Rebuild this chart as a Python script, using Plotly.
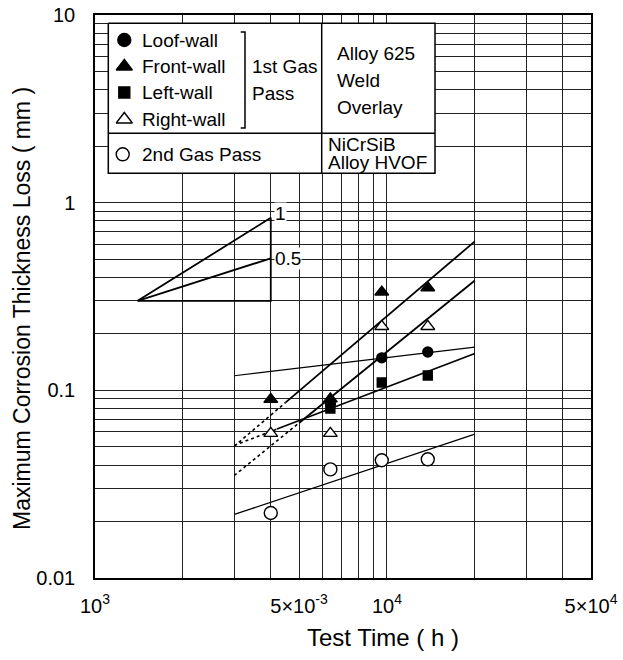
import numpy as np
import plotly.graph_objects as go

# ---------------- data ----------------
TIME_H = [4000, 6400, 9600, 13800]
LOOF_WALL = [None, 0.085, 0.149, 0.160]
FRONT_WALL = [0.0895, 0.090, 0.334, 0.352]
LEFT_WALL = [None, 0.080, 0.110, 0.120]
RIGHT_WALL = [0.059, 0.059, 0.219, 0.219]
SECOND_PASS = [0.0222, 0.0379, 0.0424, 0.0429]

# fitted straight lines (log-log), start/end values at FIT_X
FIT_X = [3000, 20000]
FIT_A = [0.0504, 0.622]
FIT_B = [0.0352, 0.385]
FIT_C = [0.1197, 0.170]
FIT_D = [0.0509, 0.157]
FIT_E = [0.0218, 0.0585]
FIT_DOT_END = [4500, 5000, None, 4200, None]   # dotted up to this time

# slope guide triangle
SLOPE_X = [1400, 4000]
SLOPE_BASE = 0.30
SLOPE_TOP_1 = 0.83
SLOPE_TOP_05 = 0.505

X_TICKS = [1000, 5000, 10000, 50000]
X_TICKTEXT = ["10<sup>3</sup>", "5×10<sup>-3</sup>", "10<sup>4</sup>", "5×10<sup>4</sup>"]
X_GRID = [2000, 3000, 4000, 6000, 7000, 8000, 9000, 20000, 30000, 40000]
Y_TICKS = [0.01, 0.1, 1, 10]
Y_TICKTEXT = ["0.01", "0.1", "1", "10"]
Y_GRID = [m * 10.0 ** e for e in (-2, -1, 0) for m in range(2, 10)]

FONT = "Liberation Sans, Arial, Helvetica, sans-serif"

# ---------------- layout geometry (pixels) ----------------
W, H = 623, 660
PL, PT, PR, PB = 95, 15, 591, 578
PW, PH = PR - PL, PB - PT


def px(x):
    return (x - PL) / PW


def py(y):
    return (PB - y) / PH


fig = go.Figure()

# fitted lines
for ys, dot_end, wdt in zip([FIT_A, FIT_B, FIT_C, FIT_D, FIT_E], FIT_DOT_END,
                            [1.8, 1.8, 1.1, 1.6, 1.3]):
    lx = np.log10(FIT_X)
    ly = np.log10(ys)
    if dot_end is None:
        fig.add_trace(go.Scatter(x=FIT_X, y=ys, mode="lines",
                                 line=dict(color="black", width=wdt),
                                 showlegend=False, hoverinfo="skip"))
    else:
        yb = 10 ** np.interp(np.log10(dot_end), lx, ly)
        fig.add_trace(go.Scatter(x=[FIT_X[0], dot_end], y=[ys[0], yb], mode="lines",
                                 line=dict(color="black", width=1.6, dash="dot"),
                                 showlegend=False, hoverinfo="skip"))
        fig.add_trace(go.Scatter(x=[dot_end, FIT_X[1]], y=[yb, ys[1]], mode="lines",
                                 line=dict(color="black", width=wdt),
                                 showlegend=False, hoverinfo="skip"))

# slope triangle
fig.add_trace(go.Scatter(
    x=[SLOPE_X[1], SLOPE_X[0], SLOPE_X[1], SLOPE_X[1], SLOPE_X[0]],
    y=[SLOPE_TOP_1, SLOPE_BASE, SLOPE_BASE, SLOPE_TOP_1, SLOPE_BASE],
    mode="lines", line=dict(color="black", width=1.8),
    showlegend=False, hoverinfo="skip"))
fig.add_trace(go.Scatter(
    x=SLOPE_X, y=[SLOPE_BASE, SLOPE_TOP_05], mode="lines",
    line=dict(color="black", width=1.8), showlegend=False, hoverinfo="skip"))

# data markers
series = [
    ("Right-wall", RIGHT_WALL, "triangle-up", "white", 12),
    ("2nd Gas Pass", SECOND_PASS, "circle", "white", 13),
    ("Front-wall", FRONT_WALL, "triangle-up", "black", 12),
    ("Loof-wall", LOOF_WALL, "circle", "black", 10),
    ("Left-wall", LEFT_WALL, "square", "black", 9),
]
for name, ys, sym, col, size in series:
    fig.add_trace(go.Scatter(x=TIME_H, y=ys, mode="markers", name=name,
                             marker=dict(symbol=sym, color=col, size=size,
                                         line=dict(color="black", width=1.4)),
                             showlegend=False))

# ---------------- legend table (overlay axes in paper units) ----------------
LX0, LX1, LY0, LY1 = 108.3, 435, 23.3, 173.3
LDIV_Y, LDIV_X = 133.3, 321.7
fig.add_trace(go.Scatter(
    x=[px(LX0), px(LX1), px(LX1), px(LX0), px(LX0)],
    y=[py(LY0), py(LY0), py(LY1), py(LY1), py(LY0)],
    mode="lines", fill="toself", fillcolor="white",
    line=dict(color="black", width=1.5), xaxis="x2", yaxis="y2",
    showlegend=False, hoverinfo="skip"))
for xs, ys in [([LX0, LX1], [LDIV_Y, LDIV_Y]), ([LDIV_X, LDIV_X], [LY0, LY1]),
               ([240.7, 245, 245, 240.7], [32, 32, 128, 128])]:
    fig.add_trace(go.Scatter(x=[px(v) for v in xs], y=[py(v) for v in ys],
                             mode="lines", line=dict(color="black", width=1.5),
                             xaxis="x2", yaxis="y2", showlegend=False,
                             hoverinfo="skip"))

leg_items = [
    ("Loof-wall", "circle", "black", 13, 124.3, 40),
    ("Front-wall", "triangle-up", "black", 14, 124.3, 66.5),
    ("Left-wall", "square", "black", 11, 124.3, 92.5),
    ("Right-wall", "triangle-up", "white", 14, 124.3, 119.5),
    ("2nd Gas Pass", "circle", "white", 13, 122.7, 154.3),
]
for text, sym, col, size, mx, my in leg_items:
    fig.add_trace(go.Scatter(x=[px(mx)], y=[py(my)], mode="markers",
                             marker=dict(symbol=sym, color=col, size=size,
                                         line=dict(color="black", width=1.4)),
                             xaxis="x2", yaxis="y2", showlegend=False,
                             hoverinfo="skip"))

annotations = []


def txt(t, x, y, size=19, xanchor="left"):
    annotations.append(dict(text=t, x=px(x), y=py(y), xref="paper", yref="paper",
                            xanchor=xanchor, yanchor="middle", showarrow=False,
                            font=dict(family=FONT, size=size, color="black")))


for text, sym, col, size, mx, my in leg_items:
    txt(text, 139.5, my)
txt("1st Gas", 250, 66.5)
txt("Pass", 250, 93.3)
txt("Alloy 625", 335, 54)
txt("Weld", 335, 80.7)
txt("Overlay", 335, 107.3)
txt("NiCrSiB", 325.5, 144.3)
txt("Alloy HVOF", 325.5, 162.7)

# slope labels (data coords)
for t, yv in [("1", 0.877), ("0.5", SLOPE_TOP_05)]:
    annotations.append(dict(text=t, x=np.log10(4100), y=np.log10(yv), xref="x", yref="y",
                            xanchor="left", yanchor="middle", showarrow=False,
                            bgcolor="white", borderpad=0,
                            font=dict(family=FONT, size=19, color="black")))

# axis titles
annotations.append(dict(text="Test Time ( h )", x=px(383), y=py(637), xref="paper",
                        yref="paper", xanchor="center", yanchor="middle",
                        showarrow=False, font=dict(family=FONT, size=24, color="black")))
annotations.append(dict(text="Maximum Corrosion Thickness Loss ( mm )", x=px(22),
                        y=py(309), xref="paper", yref="paper", xanchor="center",
                        yanchor="middle", textangle=-90, showarrow=False,
                        font=dict(family=FONT, size=23, color="black")))

axis_common = dict(type="log", showgrid=True, gridcolor="#222222", gridwidth=1,
                   showline=True, mirror=True, linecolor="black", linewidth=1.5,
                   ticks="", zeroline=False, tickmode="array", automargin=False,
                   tickfont=dict(family=FONT, size=20, color="black"))

fig.update_layout(
    width=W, height=H,
    margin=dict(l=PL, r=W - PR, t=PT, b=H - PB, pad=0, autoexpand=False),
    paper_bgcolor="white", plot_bgcolor="white",
    xaxis=dict(range=[3, np.log10(50000)], tickvals=X_TICKS, ticktext=X_TICKTEXT,
               ticklabelstandoff=9,
               minor=dict(tickmode="array", tickvals=X_GRID, showgrid=True,
                          gridcolor="#222222", gridwidth=1, ticks=""),
               **axis_common),
    yaxis=dict(range=[-2, 1], tickvals=Y_TICKS, ticktext=Y_TICKTEXT,
               ticklabelstandoff=14,
               minor=dict(tickmode="array", tickvals=Y_GRID, showgrid=True,
                          gridcolor="#222222", gridwidth=1, ticks=""),
               **axis_common),
    xaxis2=dict(overlaying="x", range=[0, 1], visible=False, fixedrange=True),
    yaxis2=dict(overlaying="y", range=[0, 1], visible=False, fixedrange=True),
    annotations=annotations,
    showlegend=False,
    font=dict(family=FONT, color="black"),
)

fig.write_html("out.html")
